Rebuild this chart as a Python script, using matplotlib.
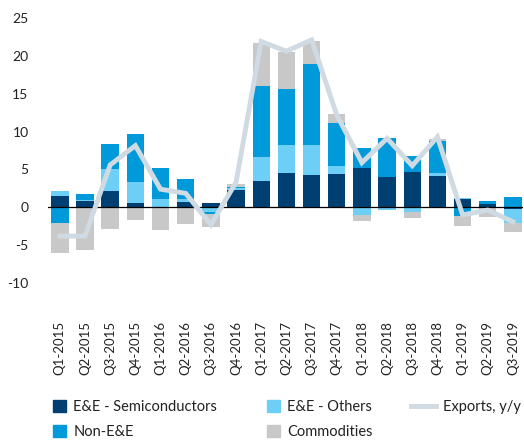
import numpy as np
import matplotlib
matplotlib.use("Agg")
from matplotlib import pyplot as plt
from matplotlib.patches import Patch
from matplotlib.lines import Line2D

plt.rcParams['font.family'] = ['Lato', 'DejaVu Sans']
plt.rcParams['axes.unicode_minus'] = False

quarters = ['Q1-2015', 'Q2-2015', 'Q3-2015', 'Q4-2015',
            'Q1-2016', 'Q2-2016', 'Q3-2016', 'Q4-2016',
            'Q1-2017', 'Q2-2017', 'Q3-2017', 'Q4-2017',
            'Q1-2018', 'Q2-2018', 'Q3-2018', 'Q4-2018',
            'Q1-2019', 'Q2-2019', 'Q3-2019']

semis = [1.5, 0.85, 2.1, 0.6, 0.0, 0.65, 0.55, 2.3,
         3.5, 4.6, 4.3, 4.4, 5.15, 3.95, 4.7, 4.2,
         1.05, 0.5, -0.25]
others = [0.6, 0.13, 2.9, 2.7, 1.06, 0.4, -0.65, 0.22,
          3.2, 3.6, 3.9, 1.05, -1.0, -0.35, -0.65, 0.4,
          0.25, 0.0, -1.75]
non_ee = [-2.0, 0.75, 3.4, 6.4, 4.2, 2.7, -0.25, 0.2,
          9.25, 7.4, 10.7, 5.7, 2.65, 5.2, 2.1, 4.1,
          -1.2, 0.35, 1.4]
commod = [-4.0, -5.6, -2.8, -1.7, -3.0, -2.2, -1.7, 0.3,
          5.8, 4.9, 3.0, 1.15, -0.75, 0.0, -0.7, 0.35,
          -1.25, -1.3, -1.3]
exports = [-3.8, -3.8, 5.6, 8.15, 2.4, 1.85, -2.3, 3.3,
           21.9, 20.6, 22.1, 12.2, 5.9, 9.1, 5.5, 9.3,
           -1.0, -0.35, -1.9]

series = [
    ('E&E - Semiconductors', semis, '#003F72'),
    ('E&E - Others', others, '#6DCFF6'),
    ('Non-E&E', non_ee, '#009ADA'),
    ('Commodities', commod, '#C8C8C8'),
]
line_color = '#D0DAE2'

fig = plt.figure(figsize=(5.24, 4.48), dpi=100)
ax = fig.add_axes([0.0916, 0.368, 0.9065, 0.592])

x = np.arange(len(quarters))
pos_bottom = np.zeros(len(x))
neg_bottom = np.zeros(len(x))
for name, vals, color in series:
    v = np.array(vals, dtype=float)
    bottom = np.where(v >= 0, pos_bottom, neg_bottom)
    ax.bar(x, v, 0.69, bottom=bottom, color=color, linewidth=0, zorder=2)
    pos_bottom += np.where(v >= 0, v, 0)
    neg_bottom += np.where(v < 0, v, 0)

ax.axhline(0, color='black', linewidth=0.9, zorder=3)
ax.plot(x, exports, color=line_color, linewidth=3.5, zorder=4,
        solid_joinstyle='miter')

ax.set_xlim(-0.47, 18.4)
ax.set_ylim(-10, 25)
ax.set_yticks(range(-10, 26, 5))
ax.set_xticks(x)
ax.set_xticklabels(quarters, rotation=90)
for s in ax.spines.values():
    s.set_visible(False)
ax.tick_params(axis='y', length=0, pad=14, labelsize=10, labelcolor='#222222')
ax.tick_params(axis='x', length=0, pad=27, labelsize=9.5, labelcolor='#222222')

fs = 10.5
col1 = [Patch(color=series[0][2], label=series[0][0]),
        Patch(color=series[2][2], label=series[2][0])]
col2 = [Patch(color=series[1][2], label=series[1][0]),
        Patch(color=series[3][2], label=series[3][0])]
col3 = [Line2D([], [], color=line_color, linewidth=3.5, label='Exports, y/y')]

W, H = 524.0, 448.0
for handles, px, hl in [(col1, 53, 0.9), (col2, 267, 0.9), (col3, 411, 1.7)]:
    leg = fig.legend(handles=handles, loc='upper left',
                     bbox_to_anchor=(px / W, 1 - 400 / H),
                     frameon=False, fontsize=fs, handlelength=hl,
                     handleheight=0.9, handletextpad=0.5,
                     labelspacing=0.75, borderaxespad=0, borderpad=0)
    for t in leg.get_texts():
        t.set_color('#222222')

fig.savefig('out.png', dpi=100)
